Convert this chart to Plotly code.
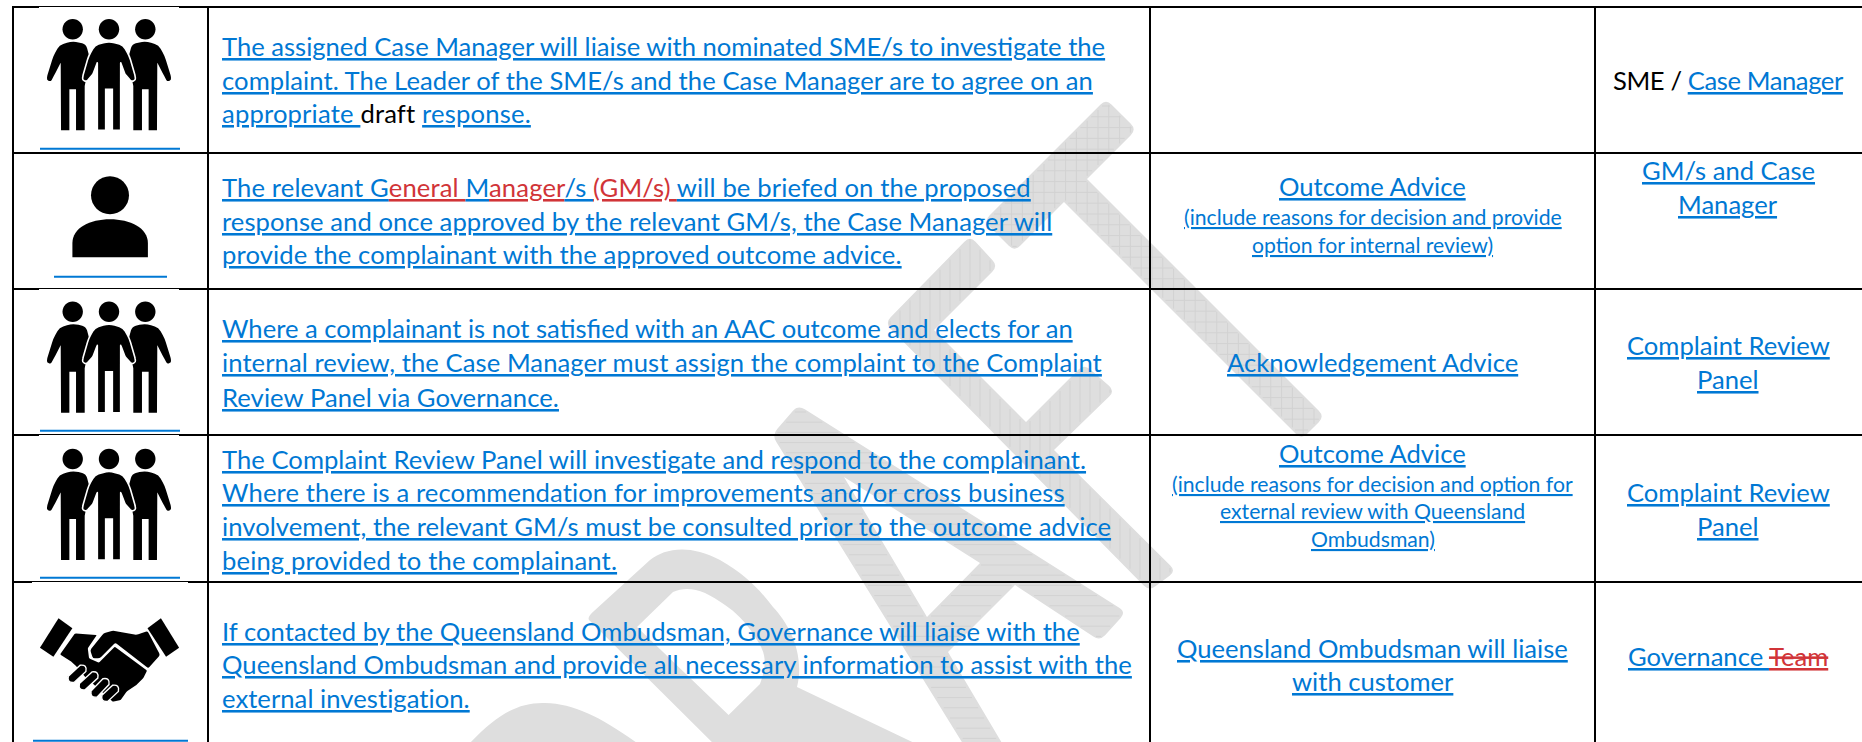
import math
import plotly.graph_objects as go

# ---------- content ----------
PROCESS_LINES = [
    ["The assigned Case Manager will liaise with nominated SME/s to investigate the",
     "complaint. The Leader of the SME/s and the Case Manager are to agree on an",
     "appropriate draft response."],
    ["The relevant General Manager/s (GM/s) will be briefed on the proposed",
     "response and once approved by the relevant GM/s, the Case Manager will",
     "provide the complainant with the approved outcome advice."],
    ["Where a complainant is not satisfied with an AAC outcome and elects for an",
     "internal review, the Case Manager must assign the complaint to the Complaint",
     "Review Panel via Governance."],
    ["The Complaint Review Panel will investigate and respond to the complainant.",
     "Where there is a recommendation for improvements and/or cross business",
     "involvement, the relevant GM/s must be consulted prior to the outcome advice",
     "being provided to the complainant."],
    ["If contacted by the Queensland Ombudsman, Governance will liaise with the",
     "Queensland Ombudsman and provide all necessary information to assist with the",
     "external investigation."],
]
OUTPUT_MAIN = [[], ["Outcome Advice"], ["Acknowledgement Advice"], ["Outcome Advice"],
               ["Queensland Ombudsman will liaise", "with customer"]]
OUTPUT_NOTE = [[], ["(include reasons for decision and provide", "option for internal review)"], [],
               ["(include reasons for decision and option for", "external review with Queensland", "Ombudsman)"], []]
RESPONSIBLE = [["SME / Case Manager"], ["GM/s and Case", "Manager"], ["Complaint Review", "Panel"],
               ["Complaint Review", "Panel"], ["Governance Team"]]
ICONS = ["group", "person", "group", "group", "handshake"]

# runs of a line that are not plain link text
RUNS = {
    "appropriate draft response.": [("appropriate ", "link"), ("draft", "plain"), (" ", "plain"), ("response.", "link")],
    "The relevant General Manager/s (GM/s) will be briefed on the proposed": [
        ("The relevant G", "link"), ("eneral ", "edit"), ("M", "link"), ("anager", "edit"), ("/s ", "link"),
        ("(GM/s) ", "edit"), ("will be briefed on the proposed", "link")],
    "SME / Case Manager": [("SME / ", "plain"), ("Case Manager", "link")],
    "Governance Team": [("Governance ", "link"), ("Team", "struck")],
}

# ---------- layout measures (pixels of the page) ----------
W, H = 1862, 742
COL_X = [13, 208, 1150, 1595]
ROW_Y = [7, 153, 289, 435, 582]
TEXT_LEFT = 221.5
CENTER_OUT, CENTER_RESP = 1372.5, 1728
PROCESS_UL = [[58.7, 92.7, 126], [200, 234, 267.3], [341.3, 375.3, 409.5], [472, 505.3, 538.7, 572.7], [644, 676.7, 710.7]]
PROCESS_TRACK = [[0, .064, .176], [.138, .067, .125], [0, .077, .085], [.047, .117, .062, .14], [.048, .06, .05]]
OUT_MAIN_UL = [[], [199], [375.3], [465.7], [660.7, 694]]
OUT_NOTE_UL = [[], [226.7, 255], [], [494, 521, 549], []]
RESP_UL = [[92.7], [183.3, 217.3], [358, 392], [505, 538.7], [669.3]]
RESP_TRACK = [[-.4], [0, 0], [0, 0], [0, 0], [0]]
ICON_UL = [(40, 180, 148.7), (54, 167, 276.7), (40, 180, 430.7), (40, 180, 577.7), (33, 188, 740.7)]
ICON_TOP = [(39, 179, 7), None, (39, 179, 289), (39, 179, 435), (32, 188, 582)]
GROUP_HEAD_Y = [29.3, None, 311.7, 459, None]

BLUE, RED, BLACK, GREY, HATCH = "#0078d4", "#d13438", "#000000", "#dedede", "#d2d2d2"
FONT = "Lato"
SIZE_MAIN, SIZE_NOTE = 25.6, 21.2
UL_OFFSET = 2.0
NOTE_SHIFT = 1.0

shapes, annotations = [], []


def rounded(points, r):
    n = len(points)
    out = []
    for i in range(n):
        p = points[i]
        rad = p[2] if len(p) > 2 else r
        a, b = points[i - 1], points[(i + 1) % n]
        if rad <= 0:
            out.append((("L" if out else "M") + f" {p[0]} {p[1]}"))
            continue
        la = math.hypot(a[0] - p[0], a[1] - p[1])
        lb = math.hypot(b[0] - p[0], b[1] - p[1])
        s = (p[0] + (a[0] - p[0]) * rad / la, p[1] + (a[1] - p[1]) * rad / la)
        e = (p[0] + (b[0] - p[0]) * rad / lb, p[1] + (b[1] - p[1]) * rad / lb)
        out.append(("L" if out else "M") + f" {s[0]:.1f} {s[1]:.1f} Q {p[0]} {p[1]} {e[0]:.1f} {e[1]:.1f}")
    return " ".join(out) + " Z"


def add_path(path, fill=BLACK, line=None, lw=0, layer="below", **kw):
    shapes.append(dict(type="path", xref="x", yref="y", path=path, fillcolor=fill,
                       line=dict(color=line or "rgba(0,0,0,0)", width=lw), layer=layer, **kw))


def hatch(polys, vertical, spacing, lo, hi):
    segs = []
    v = lo
    while v <= hi:
        cuts = []
        for poly in polys:
            for i in range(len(poly)):
                a, b = poly[i - 1], poly[i]
                ia, ib = (0, 1) if vertical else (1, 0)
                if (a[ia] <= v < b[ia]) or (b[ia] <= v < a[ia]):
                    t = (v - a[ia]) / (b[ia] - a[ia])
                    cuts.append(a[ib] + t * (b[ib] - a[ib]))
        cuts.sort()
        for c1, c2 in zip(cuts[0::2], cuts[1::2]):
            if c2 - c1 > 6:
                if vertical:
                    segs.append(f"M {v} {c1 + 3:.1f} L {v} {c2 - 3:.1f}")
                else:
                    segs.append(f"M {c1 + 3:.1f} {v} L {c2 - 3:.1f} {v}")
        v += spacing
    if segs:
        shapes.append(dict(type="path", xref="x", yref="y", path=" ".join(segs),
                           line=dict(color=HATCH, width=1), layer="below"))


# ---------- watermark ----------
T_OUT = [(1106, 99), (1136.5, 129.5), (1087, 179, 0), (1324.5, 416.5), (1301.5, 439.5), (1064, 202, 0), (1014.5, 251.5), (984, 221)]
F_OUT = [(970, 236), (998, 266), (934, 330, 0), (1026, 422, 0), (1084, 364), (1115, 391), (1054, 450, 0),
         (1176, 571), (1149, 591), (885, 323)]
A_OUT = [(798, 405), (1126, 612), (1100, 641), (1015, 585, 0), (948, 652, 0), (1012, 760, 0), (973, 760, 0), (772, 435)]
A_IN = [(844, 477, 0), (980, 563, 0), (927, 617, 0)]
add_path(rounded(T_OUT, 8), GREY)
add_path(rounded(F_OUT, 8), GREY)
add_path(rounded(A_OUT, 8) + " " + rounded(A_IN, 0), GREY, fillrule="evenodd")
add_path("M 589 620 Q 587 617 594 611 L 650 560 C 665 548 690 544 720 560 C 745 574 760 590 773 607 "
         "C 790 625 805 655 797 687 L 950 760 L 730 760 Z "
         "M 637 627 L 728.6 715 L 760 684 C 768 662 765 652 757 640 C 745 620 735 612 725 605 "
         "C 705 590 688 585 673 592 Z", GREY, fillrule="evenodd")
add_path("M 455 760 C 490 718 515 702 545 703 C 580 704 610 722 660 760 Z", GREY)
hatch([T_OUT], True, 10.8, 990, 1320)
hatch([T_OUT], False, 10.8, 106, 436)
hatch([F_OUT], True, 10, 890, 1170)
hatch([A_OUT, A_IN], False, 10.2, 412, 742)

# ---------- rules ----------
for x in COL_X:
    shapes.append(dict(type="line", xref="x", yref="y", x0=x, x1=x, y0=ROW_Y[0] - 1, y1=H, line=dict(color=BLACK, width=2), layer="below"))
for y in ROW_Y:
    shapes.append(dict(type="line", xref="x", yref="y", x0=COL_X[0] - 1, x1=W, y0=y, y1=y, line=dict(color=BLACK, width=2), layer="below"))
for item in ICON_TOP:
    if item:
        x0, x1, y = item
        shapes.append(dict(type="rect", xref="x", yref="y", x0=x0, x1=x1, y0=y, y1=y + 1.5, fillcolor="white", line=dict(width=0), layer="below"))
for x0, x1, y in ICON_UL:
    shapes.append(dict(type="line", xref="x", yref="y", x0=x0, x1=x1, y0=y, y1=y, line=dict(color=BLUE, width=2), layer="below"))


# ---------- icons ----------
CENTER_BODY = [(0, 35, 12), (43, 48, 8), (61, 80, 8), (78, 138, 2), (80, 152, 4), (68, 157, 4), (48, 135, 3), (35, 100, 1),
               (35, 175, 0), (35, 303, 0), (10, 303, 0), (10, 180, 0), (-10, 180, 0), (-10, 303, 0), (-35, 303, 0), (-35, 175, 0),
               (-35, 100, 1), (-48, 135, 3), (-68, 157, 4), (-80, 152, 4), (-78, 138, 2), (-61, 80, 8), (-43, 48, 8)]
SIDE_BODY = [(0, 35, 12), (-40, 48, 8), (-58, 80, 8), (-76, 138, 2), (-78, 152, 4), (-66, 157, 4), (-54, 135, 3), (-36, 100, 1),
             (-35, 303, 0), (-10, 303, 0), (-10, 180, 0), (10, 180, 0), (10, 303, 0), (36, 303, 0), (36, 170, 0), (52, 90, 0), (40, 45, 8)]


def circle(cx, cy, rx, ry=None):
    ry = ry or rx
    k = 0.5523
    return (f"M {cx - rx} {cy} C {cx - rx} {cy - k * ry} {cx - k * rx} {cy - ry} {cx} {cy - ry} "
            f"C {cx + k * rx} {cy - ry} {cx + rx} {cy - k * ry} {cx + rx} {cy} "
            f"C {cx + rx} {cy + k * ry} {cx + k * rx} {cy + ry} {cx} {cy + ry} "
            f"C {cx - k * rx} {cy + ry} {cx - rx} {cy + k * ry} {cx - rx} {cy} Z")


def body(points, cx, hy, mirror=1):
    pts = [(cx + mirror * x / 3, hy + y / 3, r / 3 * 1.5) for x, y, r in points]
    return rounded(pts, 0)


def draw_group(hy):
    for cx, m in ((72.7, 1), (145.3, -1)):
        add_path(circle(cx, hy, 10.2), BLACK)
        add_path(body(SIDE_BODY, cx, hy, m), BLACK)
    add_path(circle(109, hy, 10.2), BLACK)
    add_path(body(CENTER_BODY, 109, hy), BLACK, line="white", lw=1.6)


def draw_person():
    add_path(circle(110, 195.3, 19), BLACK)
    add_path("M 72.4 257.3 L 72.4 243 C 72.4 228 90 219.3 110 219.3 C 130 219.3 147.9 228 147.9 243 L 147.9 257.3 Z", BLACK)


def hs(points):
    return [(x / 2.529, 420 + y / 3) + tuple(rest) for x, y, *rest in points]


def capsule(x1, y1, x2, y2, w):
    dx, dy = x2 - x1, y2 - y1
    n = math.hypot(dx, dy)
    ux, uy = dx / n, dy / n
    px, py = -uy * w / 2, ux * w / 2
    return (f"M {x1 + px:.1f} {y1 + py:.1f} L {x2 + px:.1f} {y2 + py:.1f} "
            f"Q {x2 + ux * w * .7:.1f} {y2 + uy * w * .7:.1f} {x2 - px:.1f} {y2 - py:.1f} "
            f"L {x1 - px:.1f} {y1 - py:.1f} Q {x1 - ux * w * .7:.1f} {y1 - uy * w * .7:.1f} {x1 + px:.1f} {y1 + py:.1f} Z")


def draw_handshake():
    add_path(rounded(hs([(148, 595), (183, 625), (135, 710), (101, 683)]), 0), BLACK)
    add_path(rounded(hs([(407, 595), (453, 683), (420, 710), (373, 625)]), 0), BLACK)
    add_path(rounded(hs([(190, 640), (245, 645), (222, 685), (225, 715), (250, 728), (290, 680), (372, 752), (362, 775), (345, 795),
                         (320, 815), (305, 840), (285, 845), (215, 770), (190, 735), (180, 725), (152, 703)]), 1), BLACK)
    add_path(rounded(hs([(262, 640), (285, 632), (345, 645), (373, 633), (405, 705), (375, 745), (292, 668), (252, 715), (235, 715), (228, 690)]), 2), BLACK)
    for (a, b, c, d) in [(210, 745, 180, 778), (240, 765, 208, 800), (268, 785, 238, 822), (292, 805, 265, 835)]:
        (x1, y1), (x2, y2) = hs([(a, b)])[0], hs([(c, d)])[0]
        add_path(capsule(x1, y1, x2, y2, 8.5), BLACK, line="white", lw=1.4)


for i, icon in enumerate(ICONS):
    if icon == "group":
        draw_group(GROUP_HEAD_Y[i])
    elif icon == "person":
        draw_person()
    else:
        draw_handshake()


# ---------- text ----------
def markup(line, track=0):
    ls = f";letter-spacing:{track}px"
    ul = "text-decoration:underline;text-decoration-thickness:2px;text-underline-offset:2px"

    def span(text, kind):
        if kind == "link":
            return f'<span style="color:{BLUE};{ul}{ls}">{text}</span>'
        if kind == "edit":
            return f'<span style="color:{RED};{ul}{ls}">{text}</span>'
        if kind == "struck":
            return (f'<span style="color:{BLUE};{ul}{ls}"><span style="color:{RED};'
                    f'text-decoration:line-through;text-decoration-thickness:1.5px">{text}</span></span>')
        return f'<span style="color:{BLACK}{ls}">{text}</span>'
    return "".join(span(t, k) for t, k in RUNS.get(line, [(line, "link")]))


def put(line, x, ul, size, anchor, track=0):
    annotations.append(dict(x=x, y=ul + UL_OFFSET, xref="x", yref="y", xanchor=anchor, yanchor="bottom", showarrow=False,
                            text=markup(line, track), align=anchor, borderpad=0, borderwidth=0,
                            font=dict(family=FONT, size=size, color=BLUE)))


for lines, uls, tracks in zip(PROCESS_LINES, PROCESS_UL, PROCESS_TRACK):
    for line, ul, tr in zip(lines, uls, tracks):
        put(line, TEXT_LEFT, ul, SIZE_MAIN, "left", tr)
for lines, uls in zip(OUTPUT_MAIN, OUT_MAIN_UL):
    for line, ul in zip(lines, uls):
        put(line, CENTER_OUT, ul, SIZE_MAIN, "center")
for lines, uls in zip(OUTPUT_NOTE, OUT_NOTE_UL):
    for line, ul in zip(lines, uls):
        put(line, CENTER_OUT, ul + NOTE_SHIFT, SIZE_NOTE, "center")
for lines, uls, tracks in zip(RESPONSIBLE, RESP_UL, RESP_TRACK):
    for line, ul, tr in zip(lines, uls, tracks):
        put(line, CENTER_RESP, ul, SIZE_MAIN, "center", tr)

fig = go.Figure()
fig.update_layout(
    width=W, height=H, margin=dict(l=0, r=0, t=0, b=0), paper_bgcolor="white", plot_bgcolor="white",
    xaxis=dict(range=[0, W], visible=False, fixedrange=True),
    yaxis=dict(range=[H, 0], visible=False, fixedrange=True),
    shapes=shapes, annotations=annotations, showlegend=False,
)
fig.write_html("out.html", config=dict(displayModeBar=False),
               post_script="document.body.style.margin='0';document.documentElement.style.overflow='hidden';")
